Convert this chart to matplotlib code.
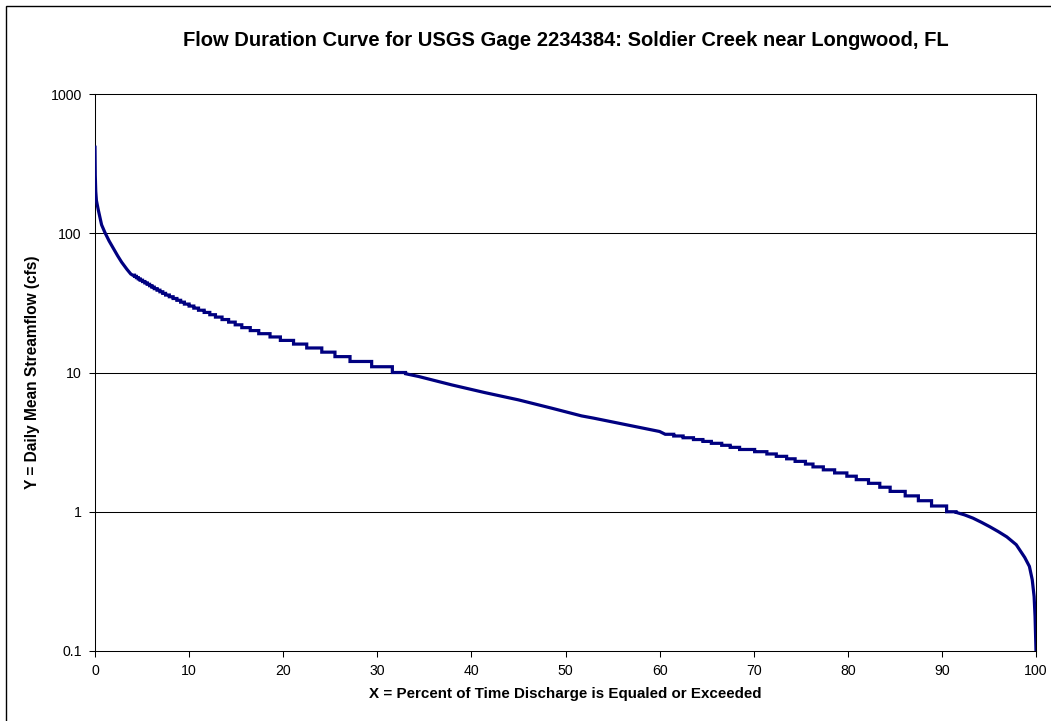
import matplotlib
matplotlib.use("Agg")
import matplotlib.pyplot as plt
from matplotlib.patches import Rectangle
from matplotlib.ticker import FixedLocator, NullLocator, FixedFormatter

plt.rcParams['font.family'] = ['Liberation Sans', 'DejaVu Sans']

# ---------------- data ----------------
# high-flow part (smooth)
top_pct = [0.0, 0.03, 0.08, 0.15, 0.35, 0.7, 1.06, 1.5, 1.95, 2.4, 2.83, 3.4, 3.8]
top_flow = [415, 260, 200, 172, 147, 115, 101, 88, 78, 69, 62, 55, 51]

# whole-cfs levels (stair steps) and the percent where each level starts
int_levels = [50, 49, 48, 47, 46, 45, 44, 43, 42, 41, 40, 39, 38, 37, 36, 35, 34,
              33, 32, 31, 30, 29, 28, 27, 26, 25, 24, 23, 22, 21, 20, 19, 18, 17,
              16, 15, 14, 13, 12, 11, 10]
int_start = [4.0, 4.2, 4.4, 4.6, 4.8, 5.05, 5.3, 5.55, 5.8, 6.05, 6.3, 6.6, 6.9,
             7.2, 7.5, 7.9, 8.3, 8.7, 9.1, 9.5, 10.0, 10.5, 11.0, 11.6, 12.2, 12.8,
             13.5, 14.2, 14.9, 15.6, 16.5, 17.4, 18.6, 19.7, 21.1, 22.5, 24.1, 25.5,
             27.1, 29.4, 31.6]

# middle part (smooth)
mid_pct = [33.0, 34.4, 37.9, 41.4, 45.0, 48.5, 51.7, 53.0, 56.5, 60.0]
mid_flow = [9.8, 9.36, 8.15, 7.18, 6.36, 5.55, 4.88, 4.70, 4.21, 3.77]

# tenth-cfs levels (stair steps)
dec_levels = [3.6, 3.5, 3.4, 3.3, 3.2, 3.1, 3.0, 2.9, 2.8, 2.7, 2.6, 2.5, 2.4, 2.3,
              2.2, 2.1, 2.0, 1.9, 1.8, 1.7, 1.6, 1.5, 1.4, 1.3, 1.2, 1.1, 1.0]
dec_start = [60.6, 61.5, 62.5, 63.6, 64.6, 65.5, 66.6, 67.5, 68.5, 70.1, 71.4, 72.4,
             73.5, 74.4, 75.5, 76.3, 77.4, 78.6, 79.9, 80.9, 82.2, 83.4, 84.5, 86.1,
             87.5, 88.9, 90.5]

# low-flow tail (smooth)
low_pct = [91.5, 92.4, 93.3, 94.2, 95.1, 96.0, 96.9, 97.9, 98.8, 99.3, 99.6, 99.8,
           99.9, 100.0]
low_flow = [0.99, 0.95, 0.90, 0.84, 0.78, 0.72, 0.66, 0.58, 0.47, 0.405, 0.325,
            0.246, 0.177, 0.1]

title = "Flow Duration Curve for USGS Gage 2234384: Soldier Creek near Longwood, FL"
xlabel = "X = Percent of Time Discharge is Equaled or Exceeded"
ylabel = "Y = Daily Mean Streamflow (cfs)"
x_ticks = [0, 10, 20, 30, 40, 50, 60, 70, 80, 90, 100]
y_ticks = [0.1, 1, 10, 100, 1000]
y_ticklabels = ["0.1", "1", "10", "100", "1000"]


def staircase(starts, levels, end):
    xs, ys = [], []
    ends = list(starts[1:]) + [end]
    for s, e, v in zip(starts, ends, levels):
        xs += [s, e]
        ys += [v, v]
    return xs, ys


sx1, sy1 = staircase(int_start, int_levels, mid_pct[0])
sx2, sy2 = staircase(dec_start, dec_levels, low_pct[0])
X = top_pct + sx1 + mid_pct + sx2 + low_pct
Y = top_flow + sy1 + mid_flow + sy2 + low_flow

# ---------------- figure ----------------
W, H = 1051, 721
fig = plt.figure(figsize=(W / 100, H / 100), dpi=100)
fig.patch.set_facecolor('white')

# outer chart border
fig.patches.append(Rectangle((6 / W, -0.05), 1.2, 1 - 6.5 / H + 0.05,
                             transform=fig.transFigure, fill=False,
                             edgecolor='black', linewidth=1.0))

L, R, T, B = 95, 1036, 94, 651
ax = fig.add_axes([L / W, 1 - B / H, (R - L) / W, (B - T) / H])
ax.set_yscale('log')
ax.set_xlim(0, 100)
ax.set_ylim(0.1, 1000)

for yv in [1, 10, 100]:
    ax.axhline(yv, color='black', linewidth=0.75, zorder=1)

ax.plot(X, Y, color='#000080', linewidth=2.3, solid_joinstyle='miter', zorder=3)

ax.xaxis.set_major_locator(FixedLocator(x_ticks))
ax.xaxis.set_minor_locator(NullLocator())
ax.yaxis.set_major_locator(FixedLocator(y_ticks))
ax.yaxis.set_major_formatter(FixedFormatter(y_ticklabels))
ax.yaxis.set_minor_locator(NullLocator())
ax.tick_params(axis='both', direction='out', length=4.5, width=0.75,
               labelsize=10.2, colors='black')
ax.tick_params(axis='x', pad=5)
ax.tick_params(axis='y', pad=5)
for sp in ax.spines.values():
    sp.set_linewidth(0.75)
    sp.set_color('black')

fig.text((L + R) / 2 / W, 1 - 40 / H, title, ha='center', va='center',
         fontsize=14.5, fontweight='bold')
fig.text((L + R) / 2 / W, 1 - 694 / H, xlabel, ha='center', va='center',
         fontsize=10.9, fontweight='bold')
fig.text(33 / W, 1 - 372 / H, ylabel, ha='center', va='center', rotation=90,
         fontsize=11.2, fontweight='bold')

fig.savefig('out.png', dpi=100, facecolor='white')
